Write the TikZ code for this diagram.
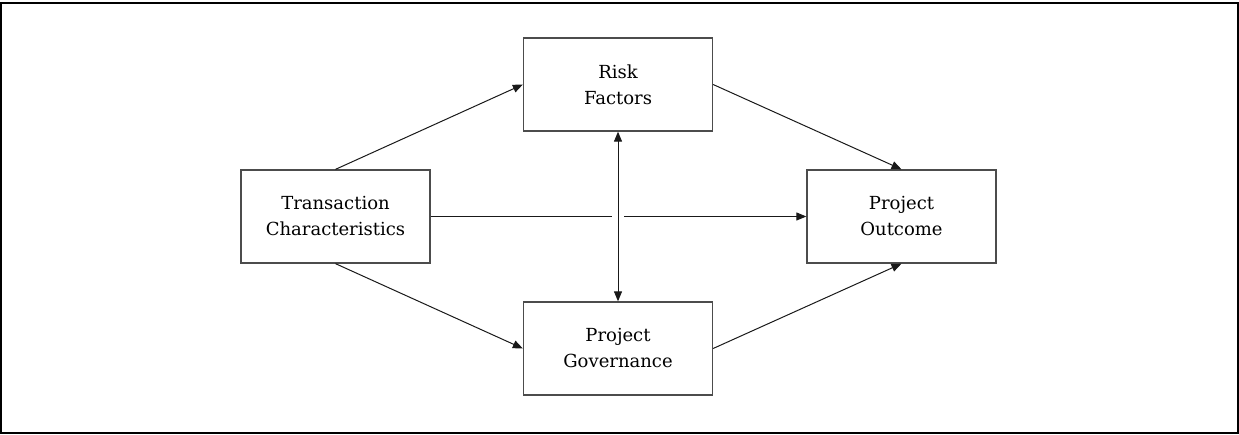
\documentclass[tikz,border=0pt]{standalone}
\usepackage{fontspec}
\setmainfont{DejaVu Serif}
\usetikzlibrary{arrows.meta}
\begin{document}
\begin{tikzpicture}[x=1pt,y=-1pt,
  box/.style={draw=black!70, line width=1.3pt, minimum width=189pt, minimum height=93pt,
    align=center, inner sep=0pt, font=\fontsize{18}{26}\selectfont},
  link/.style={draw=black!90, line width=1pt, -{Triangle[length=10pt,width=8pt]}},
  plain/.style={draw=black!90, line width=1pt}]
\useasboundingbox (0,0) rectangle (1239,435);
% outer frame
\draw[line width=2pt] (1,3) rectangle (1238,433);

% boxes
\node[box] (tc) at (335.5,216.5) {Transaction\\Characteristics};
\node[box] (rf) at (618,84.5) {Risk\\Factors};
\node[box] (pg) at (618,348.5) {Project\\Governance};
\node[box] (po) at (901.5,216.5) {Project\\Outcome};

% connectors
\draw[link] (tc.north) -- (rf.west);
\draw[link] (tc.south) -- (pg.west);
\draw[link] (rf.east) -- (po.north);
\draw[link] (pg.east) -- (po.south);

% direct path, broken where it crosses the vertical link
\coordinate (cross) at (rf.south |- tc.east);
\draw[plain] (tc.east) -- ([xshift=-6pt]cross);
\draw[link] ([xshift=6pt]cross) -- (po.west);

% two-way link between risk and governance
\draw[plain, {Triangle[length=10pt,width=8pt]}-{Triangle[length=10pt,width=8pt]}] (rf.south) -- (pg.north);
\end{tikzpicture}
\end{document}
